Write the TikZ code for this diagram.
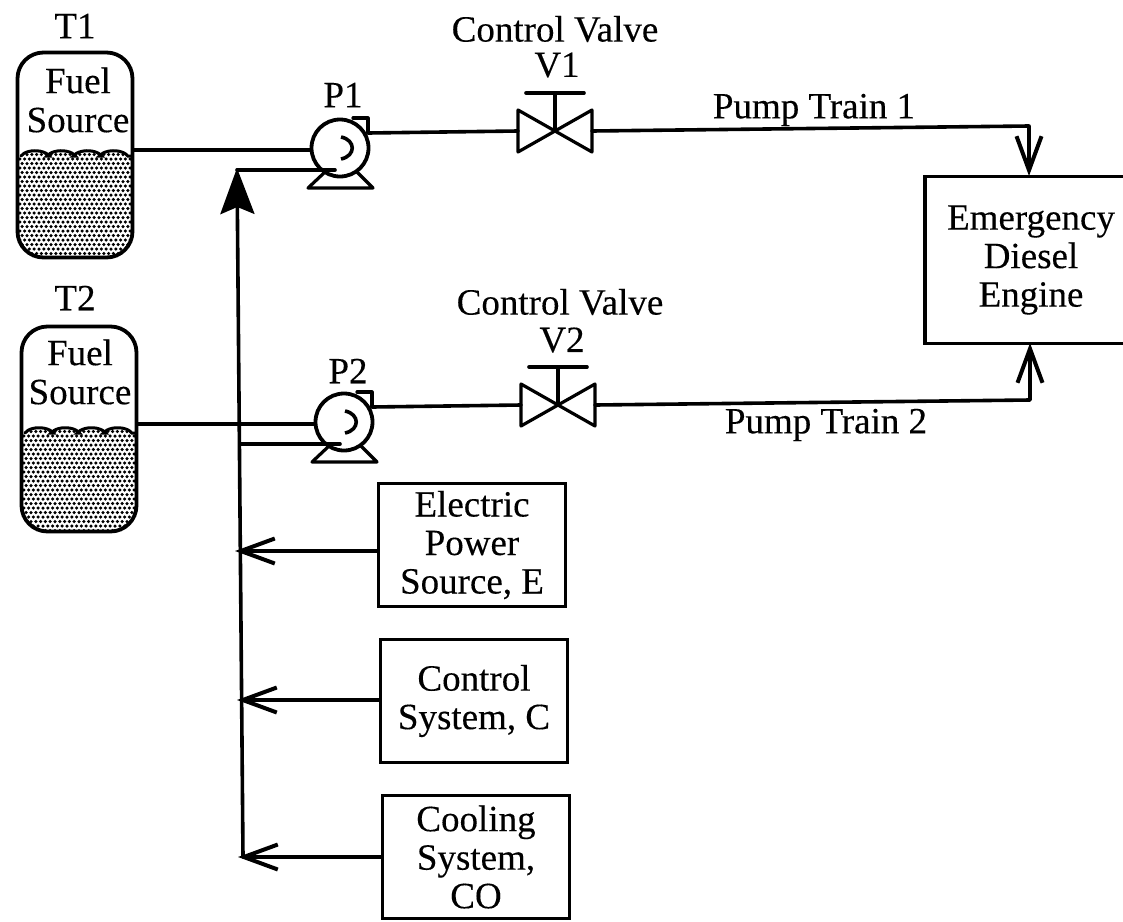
\documentclass[tikz,border=0pt]{standalone}
\usepackage{fontspec}
\setmainfont[FakeBold=0.25]{Liberation Serif}
\usetikzlibrary{arrows.meta,calc}
\tikzset{
  x=1pt,y=-1pt,
  line/.style={line width=3.6pt,line cap=round,line join=round},
  thin line/.style={line width=3.2pt,line cap=round,line join=round},
  lbl/.style={inner sep=0pt,align=center,font=\fontsize{37}{39}\selectfont},
  sbox/.style={draw,line width=3.6pt,minimum width=187pt,minimum height=123pt,inner sep=0pt,align=center,font=\fontsize{37}{38.5}\selectfont},
  tankbody/.style={draw,line width=3.8pt,rounded corners=26pt,minimum width=115pt,minimum height=205pt,inner sep=0pt},
  pumpbody/.style={draw,circle,line width=3.8pt,minimum size=57pt,inner sep=0pt},
  open/.style={-{Straight Barb[length=34pt,width=25pt,line width=4pt]}},
  solid head/.style={-{Stealth[length=46pt,width=34pt,inset=7pt]}},
  scallop/.style={line width=3pt,line cap=round}
}
\newcommand{\scallops}{
  arc[start angle=200,end angle=340,x radius=15pt,y radius=-8pt]
  -- ++(-2,0) arc[start angle=200,end angle=340,x radius=15pt,y radius=-8pt]
  -- ++(-2,0) arc[start angle=200,end angle=340,x radius=15pt,y radius=-8pt]
  -- ++(-2,0) arc[start angle=200,end angle=340,x radius=15pt,y radius=-8pt]
}
\newcommand{\tankfill}[3]{%
  % #1 = centre x, #2 = centre y, #3 = liquid level y
  \begin{scope}
    \clip[rounded corners=26pt] (#1-57,#2-102) rectangle (#1+57,#2+102);
    \clip (#1-54,#3) \scallops -- (#1+62,#3) -- (#1+62,#3+110) -- (#1-62,#3+110) -- (#1-62,#3) -- cycle;
    \foreach \i in {0,...,26}{
      \foreach \j in {0,...,24}{
        \fill ({#1-60+\i*4.8+mod(\j,2)*2.4},{#3-6+\j*4.5}) circle[radius=1.75pt];
      }
    }
  \end{scope}%
}
\begin{document}
\begin{tikzpicture}
\useasboundingbox (0,0) rectangle (1123,921);
\fill[white] (0,0) rectangle (1123,921);

% Tanks
\tankfill{75}{155}{156}
\tankfill{79}{429}{433}
\node[tankbody] (t1) at (75,155) {};
\node[tankbody] (t2) at (79,429) {};
\draw[scallop] (21,156) \scallops -- (132,156);
\draw[scallop] (25,433) \scallops -- (136,433);
\node[lbl] (t1name) at (75,26) {T1};
\node[lbl] (t2name) at (75,298) {T2};
\node[lbl] (t1text) at (78,100) {Fuel\\Source};
\node[lbl] (t2text) at (80,372) {Fuel\\Source};

% Pumps
\node[pumpbody] (p1) at (340,148) {};
\node[pumpbody] (p2) at (344,422) {};
\draw[thin line] (325,172) -- (308,188) -- (373,188) -- (357,172);
\draw[thin line] (329,446) -- (312,462) -- (377,462) -- (361,446);
\draw[thin line] (353,118) -- (368,118) -- (368,133);
\draw[thin line] (357,392) -- (372,392) -- (372,407);
\draw[line width=3.6pt] (341,137) .. controls (356,140) and (356,156) .. (341,159);
\draw[line width=3.6pt] (345,411) .. controls (360,414) and (360,430) .. (345,433);
\node[lbl] (p1name) at (343,95) {P1};
\node[lbl] (p2name) at (348,371) {P2};

% Valves
\foreach \n/\cx/\cy in {v1/555/131,v2/558/405}{
  \coordinate (\n c) at (\cx,\cy);
  \coordinate (\n l) at (\cx-37,\cy);
  \coordinate (\n r) at (\cx+37,\cy);
  \draw[thin line] ($(\n c)$) -- ($(\n c)+(-37,21)$) -- ($(\n c)+(-37,-21)$) -- cycle;
  \draw[thin line] ($(\n c)$) -- ($(\n c)+(37,21)$) -- ($(\n c)+(37,-21)$) -- cycle;
  \draw[thin line] ($(\n c)$) -- ($(\n c)+(0,-38)$);
  \draw[line] ($(\n c)+(-29,-38)$) -- ($(\n c)+(29,-38)$);
}
\node[lbl] (cv1) at (555,29) {Control Valve};
\node[lbl] (v1name) at (557,65) {V1};
\node[lbl] (cv2) at (560,302) {Control Valve};
\node[lbl] (v2name) at (562,340) {V2};

% Boxes
\node[sbox] (boxe) at (472,545) {Electric\\Power\\Source, E};
\node[sbox] (boxc) at (474,701) {Control\\System, C};
\node[sbox] (boxo) at (476,857) {Cooling\\System,\\CO};
\node[sbox,minimum width=212pt,minimum height=167pt] (eng) at (1031,260) {Emergency\\Diesel\\Engine};

% Named junctions
\coordinate (busTop) at (237,168);
\coordinate (busBot) at (243,857);
\coordinate (je) at (235,551);
\coordinate (jc) at (237,700);
\coordinate (jo) at (238,857);
\coordinate (p1low) at (335,170);
\coordinate (p2low) at (340,444);
\coordinate (j2) at (240,444);
\coordinate (p1out) at (368,133);
\coordinate (p2out) at (372,407);
\coordinate (c1) at (1029,126);
\coordinate (c2) at (1030,400);
\coordinate (e1) at (1029,176);
\coordinate (e2) at (1030,343);

% Connectors
\draw[line] (t1.east |- 0,150) -- (p1.west |- 0,150);
\draw[line] (t2.east |- 0,424) -- (p2.west |- 0,424);
\draw[line] (p1low) -- (237,170);
\draw[line] (j2) -- (p2low);
\draw[line,solid head] (busBot) -- (busTop);
\draw[line] (p1out) -- (v1l);
\draw[line] (p2out) -- (v2l);
\draw[line,open] (v1r) -- (c1) -- (e1);
\draw[line,open] (v2r) -- (c2) -- (e2);
\draw[line,open] (boxe.west |- je) -- (je);
\draw[line,open] (boxc.west |- jc) -- (jc);
\draw[line,open] (boxo.west |- jo) -- (jo);

\node[lbl] (pt1) at (814,110) {Pump Train 1};
\node[lbl] (pt2) at (826,425) {Pump Train 2};
\end{tikzpicture}
\end{document}
